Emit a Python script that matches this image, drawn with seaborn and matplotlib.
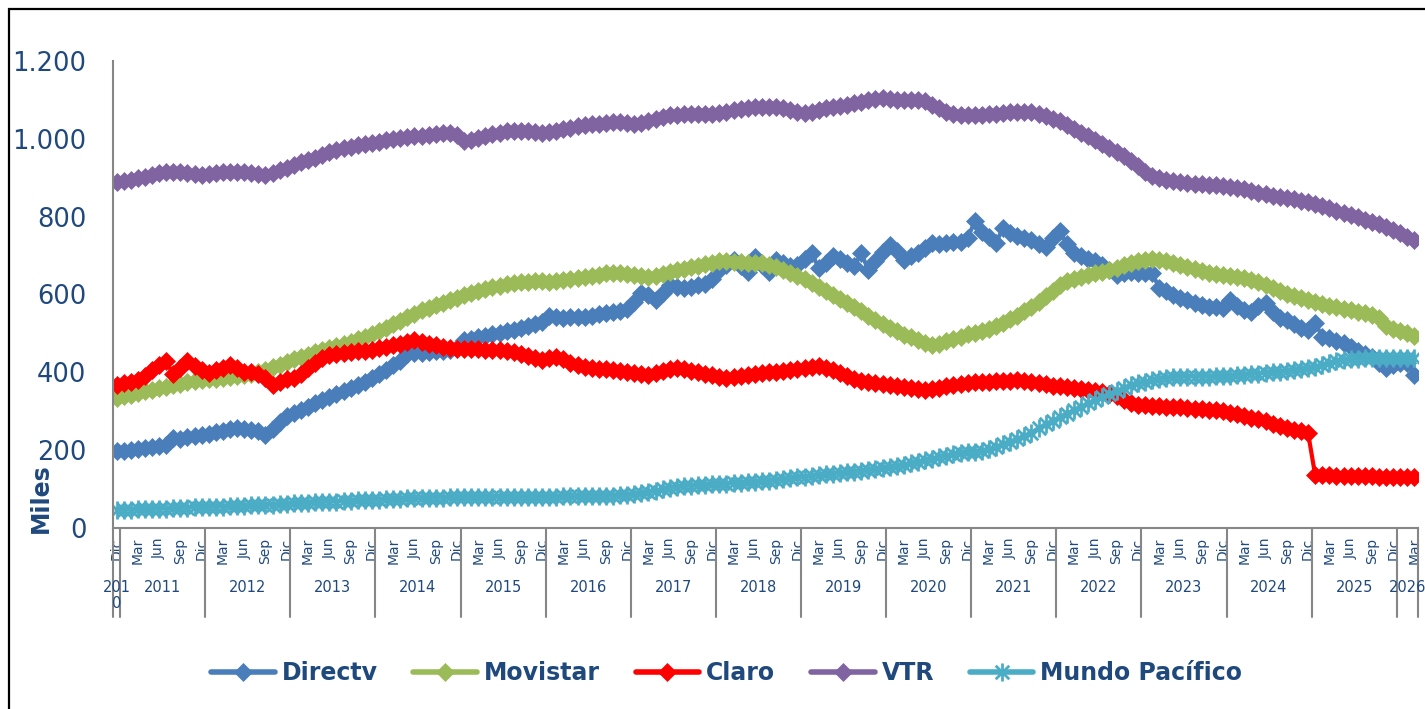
"""Suscriptores de TV paga por operador (miles), serie mensual Dic 2010 - Mar 2026."""

import matplotlib

matplotlib.use("Agg")

import matplotlib.pyplot as plt
import pandas as pd
import seaborn as sns
from matplotlib.lines import Line2D
from matplotlib.patches import Rectangle
from matplotlib.path import Path

MESES = ["Ene", "Feb", "Mar", "Abr", "May", "Jun", "Jul", "Ago", "Sep", "Oct", "Nov", "Dic"]
ANIOS = list(range(2011, 2026))
MESES_ROTULO = ["Mar", "Jun", "Sep", "Dic"]
YTICKS = [0, 200, 400, 600, 800, 1000, 1200]
YTICK_LABELS = ["0", "200", "400", "600", "800", "1.000", "1.200"]
SERIES = ["Directv", "Movistar", "Claro", "VTR", "Mundo Pacífico"]

# Dic 2010, luego Ene..Dic de 2011 a 2025, luego Ene..Mar 2026
periodo_mes = ["Dic"] + MESES * len(ANIOS) + MESES[:3]
periodo_anio = [2010] + [a for a in ANIOS for _ in MESES] + [2026] * 3

directv = [
    197,
    199, 201, 203, 205, 207, 210, 213, 230, 228, 233, 236, 239,
    242, 246, 250, 254, 257, 255, 252, 248, 240, 255, 272, 288,
    296, 304, 312, 320, 328, 336, 344, 352, 360, 368, 376, 386,
    396, 406, 418, 430, 446, 450, 450, 452, 454, 456, 458, 462,
    483, 486, 490, 494, 498, 502, 505, 509, 513, 518, 524, 530,
    545, 542, 540, 541, 542, 543, 546, 549, 552, 556, 558, 562,
    580, 603, 598, 586, 605, 625, 618, 616, 620, 625, 626, 640,
    663, 676, 689, 672, 659, 697, 676, 658, 689, 680, 672, 676,
    690, 707, 668, 680, 698, 690, 680, 672, 706, 663, 685, 710,
    728, 712, 689, 698, 707, 720, 733, 730, 733, 735, 736, 745,
    788, 760, 749, 733, 771, 758, 750, 746, 740, 730, 723, 745,
    762, 730, 707, 698, 692, 686, 675, 662, 650, 655, 658, 656,
    656, 656, 617, 608, 598, 591, 585, 578, 572, 569, 568, 566,
    586, 570, 560, 556, 570, 578, 555, 540, 535, 525, 514, 510,
    527, 492, 487, 481, 476, 465, 455, 448, 440, 425, 411, 418,
    424, 424, 393,
]
movistar = [
    334,
    339, 343, 347, 351, 355, 359, 363, 367, 371, 374, 377, 380,
    382, 384, 386, 388, 390, 393, 397, 401, 406, 413, 420, 427,
    433, 439, 445, 451, 457, 462, 467, 473, 479, 485, 491, 499,
    507, 515, 524, 533, 542, 551, 559, 566, 573, 579, 585, 592,
    598, 604, 609, 613, 618, 623, 627, 630, 632, 633, 634, 634,
    633, 634, 636, 639, 642, 645, 648, 651, 654, 656, 656, 653,
    650, 647, 646, 648, 652, 657, 662, 666, 670, 674, 678, 682,
    685, 685, 684, 683, 682, 682, 681, 677, 671, 664, 656, 648,
    640, 630, 620, 609, 599, 589, 578, 567, 557, 546, 535, 524,
    514, 505, 497, 490, 483, 476, 471, 474, 480, 486, 492, 498,
    502, 507, 512, 519, 527, 536, 546, 557, 569, 582, 596, 610,
    624, 634, 640, 645, 650, 655, 659, 664, 669, 675, 680, 685,
    688, 690, 689, 686, 681, 676, 671, 666, 661, 656, 653, 650,
    647, 645, 642, 638, 632, 625, 617, 609, 602, 596, 591, 585,
    580, 575, 571, 568, 564, 560, 556, 552, 548, 540, 518, 512,
    506, 500, 493,
]
claro = [
    368,
    372, 376, 380, 390, 405, 418, 428, 395, 410, 428, 416, 406,
    398, 405, 412, 419, 410, 402, 400, 395, 385, 368, 375, 383,
    386, 395, 410, 424, 437, 445, 448, 450, 452, 454, 456, 458,
    462, 466, 470, 474, 478, 483, 478, 473, 469, 466, 463, 461,
    460, 459, 459, 458, 458, 458, 456, 452, 447, 442, 437, 432,
    436, 440, 433, 425, 418, 413, 411, 409, 408, 406, 404, 402,
    399, 396, 393, 398, 404, 409, 411, 408, 404, 400, 396, 392,
    388, 386, 388, 391, 394, 397, 398, 400, 402, 404, 406, 408,
    410, 413, 415, 412, 405, 398, 391, 384, 378, 376, 373, 370,
    368, 365, 362, 359, 356, 355, 357, 360, 364, 368, 371, 373,
    374, 375, 376, 377, 378, 379, 380, 378, 375, 372, 369, 366,
    364, 363, 361, 358, 355, 352, 350, 345, 338, 330, 322, 316,
    315, 314, 313, 312, 311, 310, 309, 307, 305, 303, 302, 300,
    296, 292, 288, 283, 279, 274, 268, 262, 258, 253, 249, 244,
    136, 135, 135, 134, 134, 134, 133, 133, 133, 132, 132, 132,
    131, 131, 131,
]
vtr = [
    890,
    892, 895, 899, 903, 907, 911, 914, 916, 915, 912, 909, 907,
    909, 912, 914, 916, 916, 915, 913, 910, 907, 912, 919, 926,
    933, 940, 946, 952, 959, 966, 971, 976, 980, 984, 987, 990,
    993, 996, 999, 1002, 1004, 1006, 1008, 1010, 1012, 1014, 1015, 1010,
    995, 997, 1002, 1007, 1012, 1016, 1019, 1020, 1020, 1019, 1017, 1015,
    1018, 1021, 1025, 1029, 1032, 1035, 1037, 1039, 1041, 1042, 1042, 1041,
    1038, 1040, 1046, 1052, 1057, 1060, 1062, 1063, 1064, 1064, 1065, 1065,
    1066, 1069, 1073, 1077, 1080, 1082, 1083, 1083, 1082, 1079, 1075, 1070,
    1067, 1070, 1074, 1078, 1082, 1085, 1088, 1091, 1095, 1099, 1103, 1104,
    1102, 1100, 1099, 1100, 1100, 1096, 1088, 1078, 1069, 1063, 1062, 1062,
    1062, 1062, 1063, 1064, 1066, 1068, 1069, 1070, 1068, 1064, 1058, 1052,
    1045, 1036, 1026, 1016, 1006, 996, 987, 977, 966, 955, 942, 930,
    916, 905, 900, 895, 891, 888, 886, 884, 883, 882, 881, 880,
    877, 874, 870, 866, 862, 858, 854, 851, 848, 845, 841, 838,
    833, 827, 821, 815, 810, 805, 799, 792, 786, 780, 774, 766,
    757, 748, 740,
]
mundo_pacifico = [
    46,
    47, 47, 48, 48, 49, 50, 50, 51, 52, 52, 53, 54,
    54, 55, 55, 56, 57, 57, 58, 59, 59, 60, 61, 62,
    63, 64, 65, 66, 67, 68, 68, 69, 70, 71, 72, 72,
    73, 74, 74, 75, 76, 76, 77, 77, 78, 78, 79, 79,
    79, 79, 80, 80, 80, 80, 80, 80, 80, 80, 80, 80,
    80, 80, 81, 81, 81, 81, 82, 82, 83, 83, 84, 85,
    87, 89, 92, 95, 99, 103, 106, 108, 109, 110, 111, 112,
    113, 114, 115, 116, 117, 118, 120, 122, 124, 126, 128, 130,
    132, 134, 136, 138, 140, 141, 143, 145, 147, 149, 151, 153,
    156, 159, 162, 166, 170, 174, 178, 182, 186, 189, 192, 195,
    196, 198, 202, 208, 215, 222, 228, 236, 245, 256, 266, 276,
    285, 294, 303, 312, 320, 328, 336, 344, 352, 360, 367, 372,
    376, 380, 383, 386, 388, 389, 389, 389, 389, 389, 390, 390,
    391, 392, 394, 396, 397, 398, 400, 402, 404, 406, 408, 410,
    413, 418, 423, 428, 432, 434, 435, 436, 436, 437, 437, 437,
    437, 437, 437,
]

COLORES = {
    "Directv": "#4A7EBB",
    "Movistar": "#9BBB59",
    "Claro": "#FF0000",
    "VTR": "#8064A2",
    "Mundo Pacífico": "#4BACC6",
}
TEXTO = "#1F497D"
GRIS = "#868686"

# marcador tipo asterisco de Excel (x con barra vertical)
ASTERISCO = Path(
    [(0, -1), (0, 1), (-0.75, -0.75), (0.75, 0.75), (-0.75, 0.75), (0.75, -0.75)],
    [Path.MOVETO, Path.LINETO, Path.MOVETO, Path.LINETO, Path.MOVETO, Path.LINETO],
)


def main() -> None:
    sns.set_theme(style="white")
    plt.rcParams["font.family"] = ["DejaVu Sans"]

    valores = [directv, movistar, claro, vtr, mundo_pacifico]
    for v in valores:
        assert len(v) == len(periodo_mes)

    df = pd.DataFrame({"mes": periodo_mes, "anio": periodo_anio})
    df["pos"] = range(len(df))
    for nombre, v in zip(SERIES, valores):
        df[nombre] = v

    fig = plt.figure(figsize=(14.25, 7.09), dpi=100)
    ax = fig.add_axes([113 / 1425, 1 - 528 / 709, 1305 / 1425, 467 / 709])

    estilos = {}
    for nombre in SERIES:
        color = COLORES[nombre]
        if nombre == "Mundo Pacífico":
            kw = dict(marker=ASTERISCO, markersize=13, markeredgewidth=2.0,
                      markeredgecolor=color, markerfacecolor="none")
        else:
            kw = dict(marker="D", markersize=9, markeredgewidth=0.5,
                      markeredgecolor=color, markerfacecolor=color)
        estilos[nombre] = kw
        sns.lineplot(data=df, x="pos", y=nombre, ax=ax, color=color,
                     linewidth=3, legend=False, **kw)

    ax.set_xlim(-0.5, len(df) - 0.5)
    ax.set_ylim(0, 1200)
    ax.set_yticks(YTICKS)
    ax.set_yticklabels(YTICK_LABELS)
    ax.set_xlabel("")
    ax.set_ylabel("")

    rot = df[df["mes"].isin(MESES_ROTULO)]
    ax.set_xticks(rot["pos"])
    ax.set_xticklabels(rot["mes"], rotation=90, fontsize=10, color=TEXTO)
    ax.tick_params(axis="x", length=0, pad=7)
    ax.tick_params(axis="y", length=0, pad=19, labelsize=18.5, labelcolor=TEXTO)

    for lado in ["top", "right"]:
        ax.spines[lado].set_visible(False)
    for lado in ["left", "bottom"]:
        ax.spines[lado].set_color(GRIS)
        ax.spines[lado].set_linewidth(1.5)

    # separadores de año y rótulos de año bajo los meses
    trans = ax.get_xaxis_transform()
    limites = [-0.5] + [p - 0.5 for p in df.loc[df["mes"] == "Ene", "pos"]] + [len(df) - 0.5]
    for b in limites:
        ax.plot([b, b], [0, -0.19], transform=trans, color=GRIS, lw=1.5, clip_on=False)
    for anio, grupo in df.groupby("anio"):
        centro = grupo["pos"].mean()
        rotulo = "201\n0" if anio == 2010 else str(anio)
        ax.text(centro, -0.112, rotulo, transform=trans, ha="center", va="top",
                fontsize=10.5, color=TEXTO, linespacing=1.05)

    fig.text(41 / 1425, 1 - 498 / 709, "Miles", rotation=90, fontsize=17,
             fontweight="bold", color=TEXTO, ha="center", va="center")

    handles = [Line2D([0], [0], color=COLORES[n], lw=4, **estilos[n]) for n in SERIES]
    ax.legend(handles, SERIES, loc="center", bbox_to_anchor=(0.51, 0.051),
              bbox_transform=fig.transFigure, ncol=5, frameon=False,
              prop={"weight": "bold", "size": 17}, labelcolor=TEXTO,
              handlelength=2.7, handletextpad=0.3, columnspacing=1.5)

    fig.add_artist(Rectangle((9 / 1425, -0.05), 1.2, 1 - 9 / 709 + 0.05,
                             transform=fig.transFigure, fill=False,
                             edgecolor="black", linewidth=1.6))

    fig.savefig("out.png", dpi=100)
    plt.close(fig)


if __name__ == "__main__":
    main()
